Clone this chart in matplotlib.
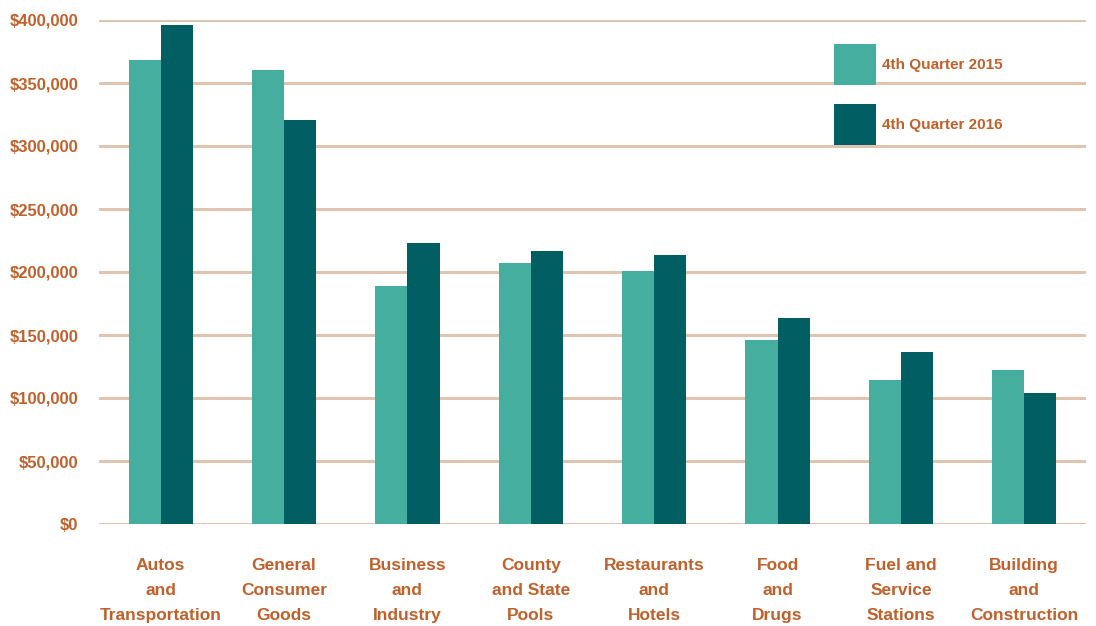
import matplotlib
matplotlib.use("Agg")
import matplotlib.pyplot as plt
import numpy as np
from matplotlib.patches import Patch
from matplotlib.ticker import FuncFormatter

categories = ["Autos\nand\nTransportation", "General\nConsumer\nGoods", "Business\nand\nIndustry",
              "County\nand State\nPools", "Restaurants\nand\nHotels", "Food\nand\nDrugs",
              "Fuel and\nService\nStations", "Building\nand\nConstruction"]
q4_2015 = [368000, 360000, 189000, 207000, 201000, 146000, 114000, 122000]
q4_2016 = [396000, 321000, 223000, 217000, 213500, 163500, 136500, 104000]
series_labels = ["4th Quarter 2015", "4th Quarter 2016"]

c15 = "#45ae9f"
c16 = "#015f63"
txt = "#c0602a"
grid = "#dfc4b2"

plt.rcParams['font.family'] = ['Liberation Sans', 'DejaVu Sans']

fig = plt.figure(figsize=(10.96, 6.26), dpi=100)
ax = fig.add_axes([99/1096, 1-524/626, (1086-99)/1096, (524-20)/626])

x = np.arange(len(categories))
w = 0.26
ax.bar(x - w/2, q4_2015, width=w, color=c15, zorder=3)
ax.bar(x + w/2, q4_2016, width=w, color=c16, zorder=3)

ax.set_xlim(-0.5, len(categories) - 0.5)
ax.set_ylim(0, 400000)
ax.set_yticks(np.arange(0, 400001, 50000))
ax.yaxis.set_major_formatter(FuncFormatter(lambda v, p: f"${v:,.0f}"))
ax.set_xticks(x)
ax.set_xticklabels(categories)
ax.grid(axis='y', color=grid, linewidth=2.2, zorder=0)
ax.set_axisbelow(True)
for s in ax.spines.values():
    s.set_visible(False)
ax.tick_params(axis='y', length=0, colors=txt, labelsize=12, pad=15)
ax.tick_params(axis='x', length=0, colors=txt, labelsize=12.5, pad=24.5)
for lab in ax.get_yticklabels():
    lab.set_fontweight('bold')
    lab.set_color(txt)
for lab in ax.get_xticklabels():
    lab.set_fontweight('bold')
    lab.set_color(txt)
    lab.set_linespacing(1.85)

handles = [Patch(facecolor=c15, label=series_labels[0]), Patch(facecolor=c16, label=series_labels[1])]
leg = ax.legend(handles=handles, loc='upper left', bbox_to_anchor=((834-99)/(1086-99), 1-(44-20)/504),
                frameon=False, handlelength=2.75, handleheight=3.8,
                labelspacing=1.2, handletextpad=0.4, borderaxespad=0, borderpad=0,
                prop={'weight': 'bold', 'size': 11})
for t in leg.get_texts():
    t.set_color(txt)

fig.savefig("out.png", dpi=100)
